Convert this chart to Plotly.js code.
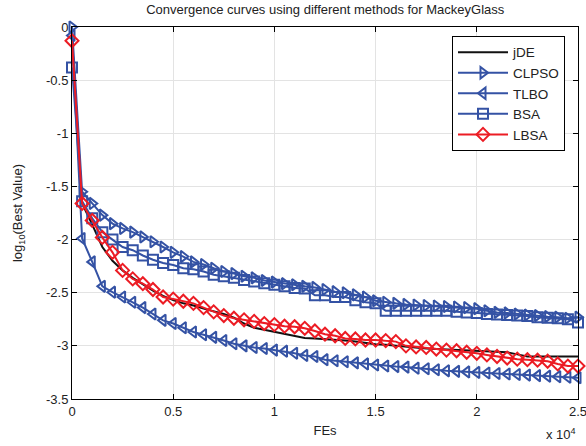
<!DOCTYPE html>
<html>
<head>
<meta charset="utf-8">
<script src="https://cdn.plot.ly/plotly-3.0.1.min.js"></script>
<style>html,body{margin:0;padding:0;background:#fff;}#chart{width:586px;height:446px;}</style>
</head>
<body>
<div id="chart"></div>
<script>
var fes = [0,500,1000,1500,2000,2500,3000,3500,4000,4500,
  5000,5500,6000,6500,7000,7500,8000,8500,9000,9500,
  10000,10500,11000,11500,12000,12500,13000,13500,14000,14500,
  15000,15500,16000,16500,17000,17500,18000,18500,19000,19500,
  20000,20500,21000,21500,22000,22500,23000,23500,24000,24500,25000];

var jDE = [-0.12,-1.66,-1.86,-2.07,-2.20,-2.29,-2.36,-2.42,-2.48,-2.53,
  -2.57,-2.60,-2.62,-2.65,-2.675,-2.70,-2.735,-2.79,-2.83,-2.85,
  -2.87,-2.89,-2.905,-2.925,-2.93,-2.935,-2.94,-2.95,-2.96,-2.975,
  -2.985,-2.99,-3.00,-3.01,-3.02,-3.025,-3.03,-3.035,-3.04,-3.045,
  -3.05,-3.055,-3.058,-3.06,-3.08,-3.10,-3.10,-3.10,-3.10,-3.10,-3.10];

var CLPSO = [0,-1.55,-1.66,-1.77,-1.85,-1.895,-1.93,-1.975,-2.02,-2.07,
  -2.12,-2.16,-2.21,-2.235,-2.27,-2.30,-2.32,-2.345,-2.36,-2.385,
  -2.40,-2.415,-2.425,-2.44,-2.45,-2.47,-2.49,-2.50,-2.52,-2.54,
  -2.575,-2.59,-2.60,-2.61,-2.615,-2.62,-2.625,-2.63,-2.635,-2.64,
  -2.65,-2.67,-2.685,-2.69,-2.70,-2.71,-2.715,-2.725,-2.73,-2.74,-2.73];

var TLBO = [-0.08,-1.99,-2.21,-2.44,-2.495,-2.54,-2.59,-2.64,-2.70,-2.76,
  -2.79,-2.83,-2.87,-2.895,-2.92,-2.95,-2.98,-3.00,-3.015,-3.025,
  -3.04,-3.05,-3.07,-3.09,-3.10,-3.13,-3.14,-3.15,-3.16,-3.17,
  -3.18,-3.19,-3.195,-3.20,-3.21,-3.215,-3.225,-3.235,-3.24,-3.245,
  -3.25,-3.255,-3.26,-3.265,-3.27,-3.275,-3.28,-3.285,-3.29,-3.295,-3.30];

var BSA = [-0.38,-1.64,-1.80,-1.93,-2.00,-2.07,-2.10,-2.15,-2.19,-2.22,
  -2.24,-2.27,-2.28,-2.30,-2.33,-2.345,-2.36,-2.38,-2.395,-2.41,
  -2.425,-2.44,-2.455,-2.46,-2.525,-2.525,-2.54,-2.54,-2.57,-2.59,
  -2.60,-2.67,-2.67,-2.67,-2.67,-2.67,-2.67,-2.67,-2.68,-2.685,
  -2.69,-2.70,-2.705,-2.71,-2.715,-2.72,-2.73,-2.735,-2.74,-2.75,-2.78];

var LBSA = [-0.13,-1.66,-1.82,-1.98,-2.12,-2.29,-2.37,-2.415,-2.47,-2.54,
  -2.56,-2.58,-2.60,-2.64,-2.68,-2.715,-2.74,-2.755,-2.77,-2.79,
  -2.80,-2.815,-2.82,-2.835,-2.86,-2.89,-2.905,-2.93,-2.935,-2.945,
  -2.945,-2.95,-2.96,-3.00,-3.01,-3.015,-3.03,-3.04,-3.046,-3.06,
  -3.07,-3.085,-3.10,-3.115,-3.125,-3.13,-3.135,-3.145,-3.17,-3.19,-3.19];

var xTickVals = [0,5000,10000,15000,20000,25000];
var xTickText = ["0","0.5","1","1.5","2","2.5"];
var yTickVals = [-3.5,-3,-2.5,-2,-1.5,-1,-0.5,0];
var yTickText = ["-3.5","-3","-2.5","-2","-1.5","-1","-0.5","0"];

var blue = "#3452a4";
var red = "#ec1c24";
var FONT = "Liberation Sans, Arial, sans-serif";

function tr(name, y, color, symbol) {
  var t = {x: fes, y: y, name: name, type: "scatter", cliponaxis: false,
    line: {color: color, width: 2}};
  if (symbol) {
    t.mode = "lines+markers";
    t.marker = {symbol: symbol, size: 10, color: color, line: {color: color, width: 2}};
  } else {
    t.mode = "lines";
  }
  return t;
}

var data = [
  tr("jDE", jDE, "#111111", null),
  tr("CLPSO", CLPSO, blue, "triangle-right-open"),
  tr("TLBO", TLBO, blue, "triangle-left-open"),
  tr("BSA", BSA, blue, "square-open"),
  tr("LBSA", LBSA, red, "diamond-open")
];

var layout = {
  width: 586, height: 446,
  margin: {l: 72, r: 8, t: 27, b: 47},
  paper_bgcolor: "#ffffff", plot_bgcolor: "#ffffff",
  font: {family: FONT, size: 13, color: "#222"},
  title: {text: "Convergence curves using different methods for MackeyGlass",
    font: {family: FONT, size: 13, color: "#222"}, x: 0.555, xanchor: "center", y: 0.978, yanchor: "middle"},
  xaxis: {range: [0, 25000], tickvals: xTickVals, ticktext: xTickText,
    ticklabeloverflow: "allow",
    showline: true, linecolor: "#000", linewidth: 1, mirror: "ticks",
    ticks: "inside", ticklen: 5, tickcolor: "#000",
    showgrid: true, gridcolor: "#e3e3e3", zeroline: false,
    title: {text: "FEs", font: {family: FONT, size: 13}, standoff: 8}},
  yaxis: {range: [-3.5, 0], tickvals: yTickVals, ticktext: yTickText,
    ticklabeloverflow: "allow",
    showline: true, linecolor: "#000", linewidth: 1, mirror: "ticks",
    ticks: "inside", ticklen: 5, tickcolor: "#000",
    showgrid: true, gridcolor: "#e3e3e3", zeroline: false,
    title: {text: "log<sub>10</sub>(Best Value)", font: {family: FONT, size: 13}, standoff: 20}},
  showlegend: true,
  legend: {x: 0.751, y: 0.976, xanchor: "left", yanchor: "top",
    bgcolor: "#ffffff", bordercolor: "#000", borderwidth: 1,
    font: {family: FONT, size: 13.5, color: "#222"}, itemwidth: 50, tracegroupgap: 0},
  annotations: [{text: "x 10<sup>4</sup>", xref: "paper", yref: "paper",
    x: 1.0, y: -0.12, xanchor: "right", yanchor: "bottom", showarrow: false,
    font: {family: FONT, size: 13, color: "#222"}}]
};

Plotly.newPlot("chart", data, layout, {displayModeBar: false, staticPlot: true});
</script>
</body>
</html>
